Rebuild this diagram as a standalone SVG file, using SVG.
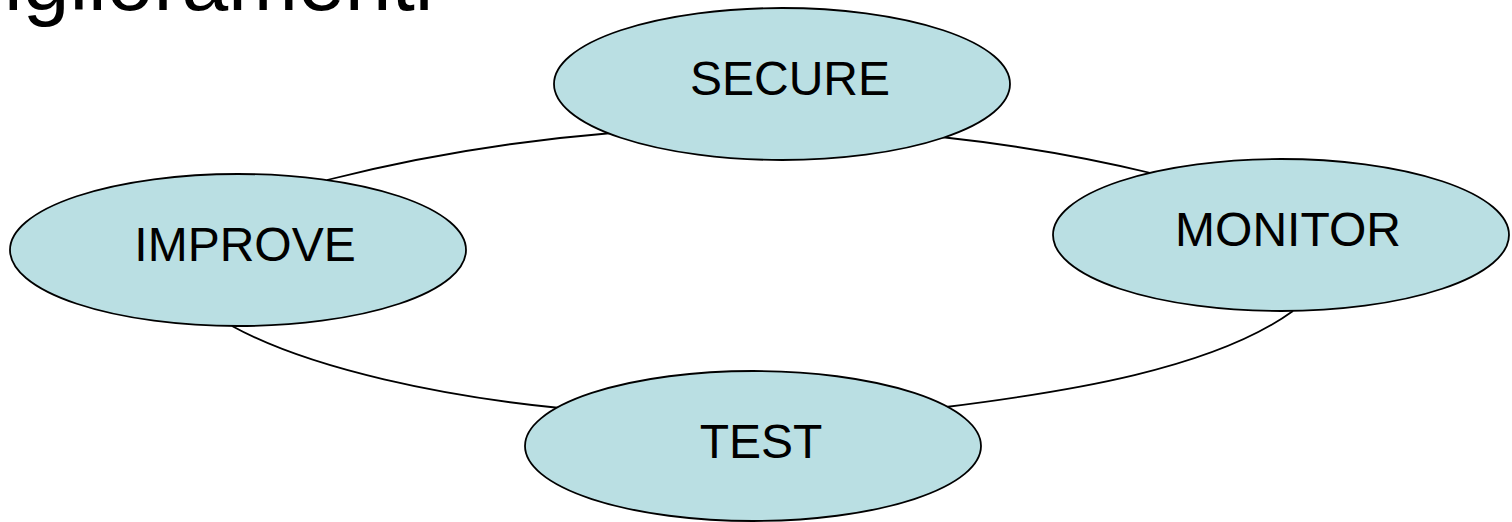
<svg xmlns="http://www.w3.org/2000/svg" width="1512" height="522" viewBox="0 0 1512 522">
<style>
.node ellipse{fill:#BADFE3;stroke:#000;stroke-width:1.8}
.node text{font-family:"Liberation Sans",Arial,sans-serif;font-size:48px;fill:#000;text-anchor:middle}
.conn path{fill:none;stroke:#000;stroke-width:1.8}
.title{font-family:"Liberation Sans",Arial,sans-serif;font-size:84px;fill:#000}
</style>
<rect width="1512" height="522" fill="#fff"/>
<text class="title" x="4" y="10">iglioramenti</text>
<g id="connectors" class="conn">
<path d="M327,180 Q465,145 612,133"/>
<path d="M941,137 Q1052,149 1155,174"/>
<path d="M232,326 C312,370 448,397 560,408"/>
<path d="M946,407 C1066,392 1213,369 1293,311"/>
</g>
<g id="secure" class="node">
<ellipse cx="782" cy="84" rx="228" ry="76"/>
<text x="790" y="95">SECURE</text>
</g>
<g id="improve" class="node">
<ellipse cx="238" cy="250" rx="228" ry="76"/>
<text x="245" y="261">IMPROVE</text>
</g>
<g id="monitor" class="node">
<ellipse cx="1281" cy="235" rx="228" ry="76"/>
<text x="1288" y="246">MONITOR</text>
</g>
<g id="test" class="node">
<ellipse cx="753" cy="446" rx="228" ry="75"/>
<text x="761" y="458">TEST</text>
</g>
</svg>
